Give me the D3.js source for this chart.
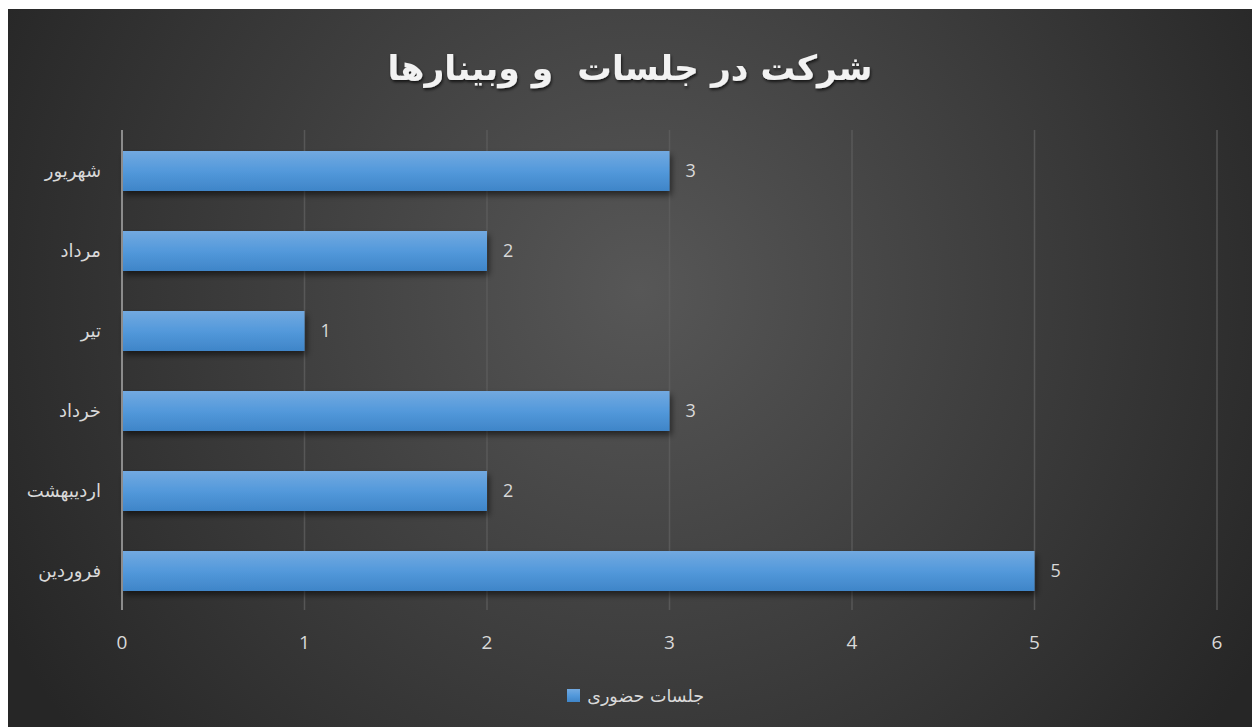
<!DOCTYPE html>
<html><head><meta charset="utf-8">
<script src="https://cdn.jsdelivr.net/npm/d3@7"></script>
<style>html,body{margin:0;padding:0;background:#fff;overflow:hidden}</style>
</head><body><svg id="c" width="1252" height="727"></svg>
<script>
const title = "شرکت در جلسات  و وبینارها";
const categories = ["شهریور","مرداد","تیر","خرداد","اردیبهشت","فروردین"];
const values = [3,2,1,3,2,5];
const xTicks = [0,1,2,3,4,5,6];
const seriesName = "جلسات حضوری";

const svg = d3.select("#c");
const defs = svg.append("defs");
const bg = defs.append("radialGradient").attr("id","bg")
  .attr("gradientUnits","userSpaceOnUse").attr("cx",640).attr("cy",290).attr("r",720);
bg.append("stop").attr("offset","0").attr("stop-color","#575757");
bg.append("stop").attr("offset","0.55").attr("stop-color","#3c3c3c");
bg.append("stop").attr("offset","1").attr("stop-color","#262626");
const bar = defs.append("linearGradient").attr("id","bar").attr("x1",0).attr("y1",0).attr("x2",0).attr("y2",1);
bar.append("stop").attr("offset","0").attr("stop-color","#72a9e0");
bar.append("stop").attr("offset","0.5").attr("stop-color","#5399db");
bar.append("stop").attr("offset","1").attr("stop-color","#3f85c8");
const sh = defs.append("filter").attr("id","sh").attr("x","-10%").attr("y","-30%").attr("width","130%").attr("height","180%");
sh.append("feDropShadow").attr("dx",2).attr("dy",4).attr("stdDeviation",3).attr("flood-color","#000").attr("flood-opacity",0.55);
const tsh = defs.append("filter").attr("id","tsh");
tsh.append("feDropShadow").attr("dx",1).attr("dy",2).attr("stdDeviation",1.5).attr("flood-color","#000").attr("flood-opacity",0.7);

svg.append("rect").attr("x",8).attr("y",9).attr("width",1244).attr("height",718).attr("fill","url(#bg)");

const x = d3.scaleLinear().domain([0,6]).range([122,1217]);
const y = d3.scaleBand().domain(categories).range([131,611]).paddingInner(0.5).paddingOuter(0.25);

// gridlines
svg.append("g").selectAll("line").data(xTicks.filter(d=>d>0)).join("line")
  .attr("x1",d=>x(d)).attr("x2",d=>x(d)).attr("y1",130).attr("y2",610)
  .attr("stroke","#5e5e5e").attr("stroke-width",1.5).attr("stroke-opacity",0.8);

// bars
svg.append("g").selectAll("rect").data(categories).join("rect")
  .attr("x",x(0)).attr("y",d=>y(d)).attr("height",y.bandwidth())
  .attr("width",(d,i)=>x(values[i])-x(0)).attr("fill","url(#bar)").attr("filter","url(#sh)");

// axis line
svg.append("line").attr("x1",x(0)).attr("x2",x(0)).attr("y1",130).attr("y2",610)
  .attr("stroke","#8c8c8c").attr("stroke-width",2);

// value labels
svg.append("g").selectAll("text").data(categories).join("text")
  .attr("x",(d,i)=>x(values[i])+16).attr("y",d=>y(d)+y.bandwidth()/2)
  .attr("dy","0.35em").attr("fill","#d9d9d9").attr("font-family","'Open Sans',sans-serif")
  .attr("font-size",18).text((d,i)=>values[i]);

// category labels
svg.append("g").selectAll("text").data(categories).join("text")
  .attr("x",101).attr("y",d=>y(d)+y.bandwidth()/2).attr("dy","0.35em")
  .attr("fill","#d9d9d9").attr("font-family","'DejaVu Sans',sans-serif")
  .attr("font-size",18).attr("direction","rtl").attr("text-anchor","start")
  .text(d=>d);

// x tick labels
svg.append("g").selectAll("text").data(xTicks).join("text")
  .attr("x",d=>x(d)).attr("y",642).attr("dy","0.35em").attr("text-anchor","middle")
  .attr("fill","#d9d9d9").attr("font-family","'Open Sans',sans-serif").attr("font-size",19)
  .text(d=>d);

// title
svg.append("text").attr("x",630).attr("y",68).attr("dy","0.35em").attr("text-anchor","middle")
  .attr("fill","#f2f2f2").attr("font-family","'DejaVu Sans',sans-serif").attr("font-weight","bold")
  .attr("font-size",34.5).attr("filter","url(#tsh)").attr("direction","rtl").style("white-space","pre")
  .text(title);

// legend
svg.append("rect").attr("x",567).attr("y",689).attr("width",13).attr("height",13).attr("fill","url(#bar)");
svg.append("text").attr("x",704).attr("y",696).attr("dy","0.35em").attr("direction","rtl")
  .attr("text-anchor","start").attr("fill","#d9d9d9").attr("font-family","'DejaVu Sans',sans-serif")
  .attr("font-size",17.5).text(seriesName);
</script></body></html>
